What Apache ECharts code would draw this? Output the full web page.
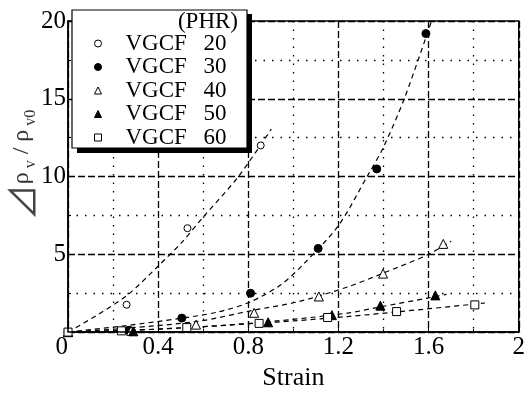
<!DOCTYPE html>
<html><head><meta charset="utf-8">
<script src="https://cdn.jsdelivr.net/npm/echarts@6/dist/echarts.min.js"></script>
<style>html,body{margin:0;padding:0;background:#fff}#c{width:528px;height:396px}</style>
</head><body><div id="c"></div>
<script>
// ---- data ----
var seriesNames = ['VGCF 20', 'VGCF 30', 'VGCF 40', 'VGCF 50', 'VGCF 60'];
var phrLabels = ['20', '30', '40', '50', '60'];
var xTicks = [0, 0.4, 0.8, 1.2, 1.6, 2];
var yTicks = [0, 5, 10, 15, 20];

// measured points
var x20 = [0, 0.26, 0.53, 0.855];
var y20 = [0, 1.76, 6.68, 12.0];
var x30 = [0, 0.27, 0.505, 0.81, 1.11, 1.37, 1.588];
var y30 = [0, 0.12, 0.9, 2.5, 5.38, 10.49, 19.19];
var x40 = [0, 0.28, 0.568, 0.826, 1.113, 1.398, 1.665];
var y40 = [0, 0.08, 0.48, 1.24, 2.29, 3.76, 5.67];
var x50 = [0, 0.29, 0.888, 1.171, 1.386, 1.63];
var y50 = [0, 0.05, 0.63, 1.09, 1.7, 2.36];
var x60 = [0, 0.237, 0.527, 0.848, 1.152, 1.458, 1.805];
var y60 = [0, 0.08, 0.29, 0.56, 0.94, 1.32, 1.75];

// fitted dashed curves
var cx20 = [0, 0.13, 0.265, 0.404, 0.507, 0.60, 0.756, 0.902];
var cy20 = [0, 1.1, 2.4, 4.3, 5.8, 7.4, 10.0, 13.05];
var cx30 = [0, 0.258, 0.507, 0.668, 0.81, 0.946, 1.049, 1.2, 1.327, 1.4, 1.493, 1.613];
var cy30 = [0, 0.42, 0.9, 1.3, 1.95, 3.06, 4.43, 6.85, 10.0, 11.9, 15.04, 20.0];
var cx40 = [0, 0.26, 0.58, 0.82, 1.02, 1.24, 1.4, 1.6, 1.70];
var cy40 = [0, 0.25, 0.7, 1.4, 1.95, 2.9, 3.8, 5.0, 5.84];
var cx50 = [0, 0.28, 0.58, 0.9, 1.24, 1.386, 1.6, 1.68];
var cy50 = [0, 0.12, 0.33, 0.68, 1.22, 1.62, 2.2, 2.43];
var cx60 = [0, 0.25, 0.58, 0.85, 1.0, 1.24, 1.46, 1.804, 1.85];
var cy60 = [0, 0.1, 0.33, 0.58, 0.72, 1.0, 1.3, 1.8, 1.87];

function pairs(xs, ys) { return xs.map(function (v, i) { return [v, ys[i]]; }); }

var FONT = 'Liberation Serif, Tinos, DejaVu Serif, serif';
var markerDefs = [
  { symbol: 'circle', size: 7, fill: '#fff' },
  { symbol: 'circle', size: 8, fill: '#000' },
  { symbol: 'triangle', size: 9, fill: '#fff' },
  { symbol: 'triangle', size: 9, fill: '#000' },
  { symbol: 'rect', size: 8, fill: '#fff' }
];
var pts = [pairs(x20, y20), pairs(x30, y30), pairs(x40, y40), pairs(x50, y50), pairs(x60, y60)];
var curves = [pairs(cx20, cy20), pairs(cx30, cy30), pairs(cx40, cy40), pairs(cx50, cy50), pairs(cx60, cy60)];

var series = [];
curves.forEach(function (c, i) {
  series.push({
    type: 'line', name: 'fit' + i, data: c, smooth: 0.3, showSymbol: false, silent: true,
    lineStyle: { color: '#000', width: 1.2, type: [5, 4] }, z: 2
  });
});
pts.forEach(function (p, i) {
  var m = markerDefs[i];
  series.push({
    type: 'scatter', name: seriesNames[i], data: p, symbol: m.symbol, symbolSize: m.size,
    itemStyle: { color: m.fill, borderColor: '#000', borderWidth: 1, opacity: 1 }, z: 5
  });
});

var chart = echarts.init(document.getElementById('c'), null, { renderer: 'canvas' });
chart.setOption({
  animation: false,
  backgroundColor: '#fff',
  grid: { left: 68, right: 5, top: 21, bottom: 58, show: true, borderColor: '#000', borderWidth: 1.5, backgroundColor: 'transparent', z: 10 },
  xAxis: {
    type: 'value', min: xTicks[0], max: xTicks[xTicks.length - 1], interval: 0.4,
    name: 'Strain', nameLocation: 'middle', nameGap: 31,
    nameTextStyle: { fontFamily: FONT, fontSize: 26, color: '#000' },
    axisLine: { show: true, lineStyle: { color: '#000', width: 1.5 } },
    axisTick: { show: true, inside: true, length: 4, lineStyle: { color: '#000' } },
    minorTick: { show: true, splitNumber: 2, length: 3, lineStyle: { color: '#000' } },
    axisLabel: { fontFamily: FONT, fontSize: 25, color: '#000', margin: 3, alignMinLabel: 'right',
      formatter: function (v) { return xTicks.indexOf(Math.round(v * 10) / 10) >= 0 ? String(Math.round(v * 10) / 10) : ''; } },
    splitLine: { show: true, lineStyle: { color: '#000', width: 1.3, type: [7, 3] } },
    minorSplitLine: { show: true, lineStyle: { color: '#000', width: 1.3, type: [1.5, 7] } }
  },
  yAxis: {
    type: 'value', min: yTicks[0], max: yTicks[yTicks.length - 1], interval: 5,
    axisLine: { show: true, lineStyle: { color: '#000', width: 1.5 } },
    axisTick: { show: true, inside: true, length: 4, lineStyle: { color: '#000' } },
    minorTick: { show: true, splitNumber: 2, length: 3, lineStyle: { color: '#000' } },
    axisLabel: { fontFamily: FONT, fontSize: 25, color: '#000', margin: 2,
      formatter: function (v) { return v === 0 ? '' : String(v); } },
    splitLine: { show: true, lineStyle: { color: '#000', width: 1.3, type: [7, 3] } },
    minorSplitLine: { show: true, lineStyle: { color: '#000', width: 1.3, type: [1.5, 7] } }
  },
  legend: {
    orient: 'vertical', left: 94, top: 32, padding: 0, itemGap: 0.5,
    itemWidth: 7, itemHeight: 7, z: 30, selectedMode: false,
    data: seriesNames.map(function (n, i) {
      var m = markerDefs[i];
      return { name: n, icon: m.symbol, itemStyle: { color: m.fill, borderColor: '#000', borderWidth: 1 } };
    }),
    formatter: function (name) {
      var i = seriesNames.indexOf(name);
      return '{p|}{a|VGCF}{b|' + phrLabels[i] + '}';
    },
    textStyle: {
      fontFamily: FONT, fontSize: 23, color: '#000', lineHeight: 22,
      rich: {
        p: { width: 19 },
        a: { width: 78, fontFamily: FONT, fontSize: 23, lineHeight: 22 },
        b: { fontFamily: FONT, fontSize: 23, lineHeight: 22 }
      }
    }
  },
  graphic: [
    { type: 'rect', z: 20, shape: { x: 77, y: 14, width: 175, height: 139 }, style: { fill: '#000' } },
    { type: 'rect', z: 21, shape: { x: 72, y: 10, width: 175, height: 138 }, style: { fill: '#fff', stroke: '#000', lineWidth: 1.2 } },
    { type: 'text', z: 22, style: { text: '(PHR)', x: 238, y: 22, align: 'right', verticalAlign: 'middle', font: '23px ' + FONT, fill: '#000' } },
    { type: 'text', z: 22, x: 22, y: 165, rotation: Math.PI / 2,
      style: {
        text: '{t|⊿}{r|ρ}{s| v}{r| / ρ}{s| v0}',
        align: 'center', verticalAlign: 'middle', fill: '#333',
        rich: {
          t: { fontFamily: 'Noto Sans CJK JP, DejaVu Sans, sans-serif', fontSize: 36, fill: '#444', lineHeight: 34 },
          r: { fontFamily: FONT, fontSize: 24, fill: '#333', lineHeight: 34 },
          s: { fontFamily: FONT, fontSize: 16, fill: '#333', lineHeight: 34, verticalAlign: 'bottom', padding: [12, 0, 0, 0] }
        }
      }
    }
  ],
  series: series
});
</script></body></html>
